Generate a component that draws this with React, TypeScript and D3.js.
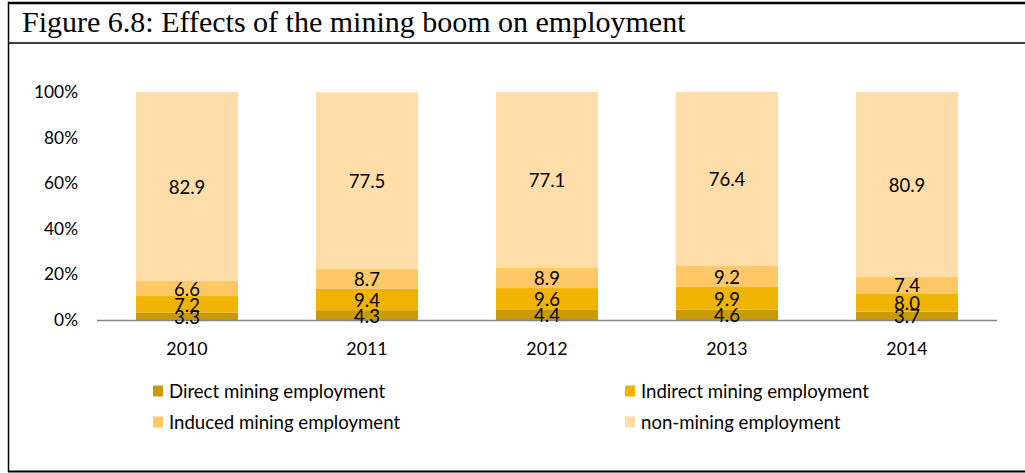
import React from "react";
import * as d3 from "d3";

const years = ["2010", "2011", "2012", "2013", "2014"];
const direct = [3.3, 4.3, 4.4, 4.6, 3.7];
const indirect = [7.2, 9.4, 9.6, 9.9, 8.0];
const induced = [6.6, 8.7, 8.9, 9.2, 7.4];
const nonMining = [82.9, 77.5, 77.1, 76.4, 80.9];
const seriesNames = [
  "Direct mining employment",
  "Indirect mining employment",
  "Induced mining employment",
  "non-mining employment",
];
const seriesColors = ["#C99A06", "#F0B400", "#FFC866", "#FFDDA8"];
const yTicks = [0, 20, 40, 60, 80, 100];

const W = 1025;
const H = 473;
const FONT = "Lato, 'Open Sans', sans-serif";

export default function App() {
  const x = d3.scaleBand<string>().domain(years).range([97, 997]).paddingInner(0.433).paddingOuter(0.2165);
  const y = d3.scaleLinear().domain([0, 100]).range([320, 92]);
  const seriesData = [direct, indirect, induced, nonMining];
  const rows = years.map((yr, i) => {
    const o: any = { year: yr };
    seriesData.forEach((s, k) => (o["s" + k] = s[i]));
    return o;
  });
  const stack = d3.stack<any>().keys(["s0", "s1", "s2", "s3"])(rows);

  return (
    <svg width={W} height={H} style={{ position: "absolute", left: 0, top: 0, display: "block" }}>
      <rect x={0} y={0} width={W} height={H} fill="#fff" />
      <line x1={8} y1={3} x2={W} y2={3} stroke="#000" strokeWidth={2.5} />
      <line x1={8} y1={43} x2={W} y2={43} stroke="#000" strokeWidth={1.5} />
      <line x1={8.5} y1={2} x2={8.5} y2={472} stroke="#000" strokeWidth={1.5} />
      <line x1={8} y1={471.5} x2={W} y2={471.5} stroke="#000" strokeWidth={2} />
      <text x={22} y={32} fontFamily="'Liberation Serif', 'Times New Roman', serif" fontSize={30} fill="#000">
        Figure 6.8: Effects of the mining boom on employment
      </text>

      {yTicks.map((t) => (
        <text key={t} x={78} y={y(t)} dy="0.35em" textAnchor="end" fontFamily={FONT} fontSize={17.3} fill="#000">
          {t}%
        </text>
      ))}

      {stack.map((layer, k) => (
        <g key={k}>
          {layer.map((d, i) => (
            <rect
              key={i}
              x={x(years[i])}
              y={y(d[1])}
              width={x.bandwidth()}
              height={y(d[0]) - y(d[1])}
              fill={seriesColors[k]}
            />
          ))}
        </g>
      ))}

      <line x1={97} x2={997} y1={320.5} y2={320.5} stroke="#868686" strokeWidth={1.5} />

      {stack.map((layer, k) => (
        <g key={"l" + k}>
          {layer.map((d, i) => (
            <text
              key={i}
              x={(x(years[i]) as number) + x.bandwidth() / 2}
              y={(y(d[0]) + y(d[1])) / 2 + 1}
              dy="0.35em"
              textAnchor="middle"
              fontFamily={FONT}
              fontSize={18.5}
              fill="#000"
            >
              {seriesData[k][i].toFixed(1)}
            </text>
          ))}
        </g>
      ))}

      {years.map((yr) => (
        <text
          key={yr}
          x={(x(yr) as number) + x.bandwidth() / 2}
          y={349}
          dy="0.35em"
          textAnchor="middle"
          fontFamily={FONT}
          fontSize={17.8}
          fill="#000"
        >
          {yr}
        </text>
      ))}

      {seriesNames.map((name, k) => {
        const col = k % 2;
        const row = Math.floor(k / 2);
        const lx = col === 0 ? 153 : 625;
        const ly = row === 0 ? 391 : 422;
        return (
          <g key={name}>
            <rect x={lx} y={ly - 5.5} width={10} height={11} fill={seriesColors[k]} />
            <text x={lx + 16} y={ly} dy="0.35em" fontFamily={FONT} fontSize={18.6} fill="#000">
              {name}
            </text>
          </g>
        );
      })}
    </svg>
  );
}
